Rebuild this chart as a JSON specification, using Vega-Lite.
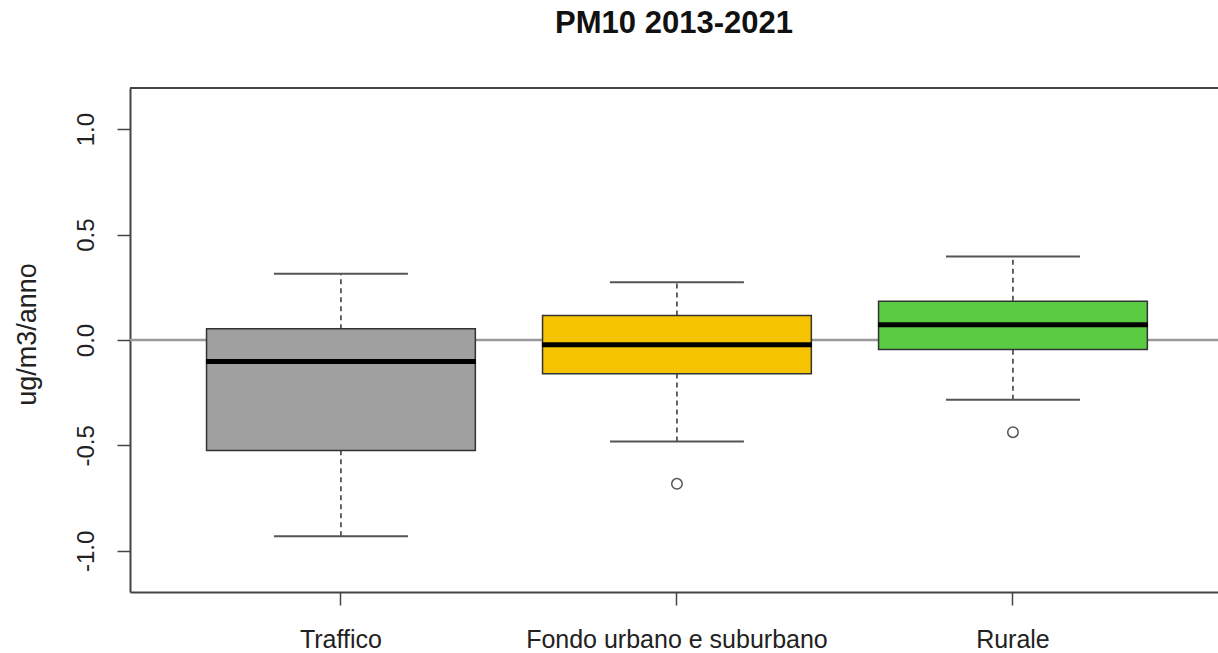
{
  "$schema": "https://vega.github.io/schema/vega-lite/v6.json",
  "width": 1088,
  "height": 504,
  "autosize": {"type": "none"},
  "padding": {"left": 130, "top": 88, "right": 0, "bottom": 61},
  "background": "white",
  "config": {
    "view": {"stroke": null},
    "font": "Liberation Sans",
    "axis": {"grid": false, "domainColor": "#444", "domainWidth": 2, "tickColor": "#444", "tickWidth": 1.5, "tickSize": 13, "labelColor": "#222", "titleColor": "#222", "labelFont": "Liberation Sans", "titleFont": "Liberation Sans"}
  },
  "title": {"text": "PM10 2013-2021", "fontSize": 31, "fontWeight": "bold", "color": "#111", "font": "Liberation Sans", "anchor": "middle", "frame": "group", "baseline": "alphabetic", "offset": 23},
  "datasets": {
    "stats": [
      {"categoria": "Traffico", "lower": -0.931, "q1": -0.524, "median": -0.102, "q3": 0.053, "upper": 0.314},
      {"categoria": "Fondo urbano e suburbano", "lower": -0.481, "q1": -0.160, "median": -0.023, "q3": 0.116, "upper": 0.274},
      {"categoria": "Rurale", "lower": -0.283, "q1": -0.045, "median": 0.072, "q3": 0.184, "upper": 0.396}
    ],
    "outliers": [
      {"categoria": "Fondo urbano e suburbano", "valore": -0.682},
      {"categoria": "Rurale", "valore": -0.437}
    ],
    "lines": [
      {"livello": 0}
    ],
    "frame": [
      {"livello": 1.195}
    ]
  },
  "encoding": {
    "x": {
      "field": "categoria", "type": "nominal",
      "sort": ["Traffico", "Fondo urbano e suburbano", "Rurale"],
      "scale": {"domain": ["Traffico", "Fondo urbano e suburbano", "Rurale"], "paddingInner": 0.2, "paddingOuter": 0.219, "align": 0.52},
      "axis": {"title": null, "labelAngle": 0, "labelFontSize": 25, "labelPadding": 42, "labelBaseline": "alphabetic", "labelLimit": 0}
    }
  },
  "layer": [
    {
      "data": {"name": "lines"},
      "mark": {"type": "rule", "color": "#999", "strokeWidth": 2.5},
      "encoding": {
        "x": null,
        "y": {"field": "livello", "type": "quantitative", "scale": {"domain": [-1.195, 1.195], "nice": false, "zero": false},
          "axis": {"values": [-1, -0.5, 0, 0.5, 1], "labelExpr": "datum.value < 0 ? '-' + format(-datum.value, '.1f') : format(datum.value, '.1f')", "labelAngle": 270, "labelAlign": "center", "labelBaseline": "alphabetic", "labelPadding": 24, "labelFontSize": 24, "title": "ug/m3/anno", "titleFontSize": 27, "titleFontWeight": "normal", "titleAngle": 270, "titleX": -95, "titleY": 246, "titleAlign": "center", "titleBaseline": "alphabetic"}}
      }
    },
    {
      "data": {"name": "frame"},
      "mark": {"type": "rule", "color": "#444", "strokeWidth": 2},
      "encoding": {"x": null, "y": {"field": "livello", "type": "quantitative"}}
    },
    {
      "data": {"name": "stats"},
      "mark": {"type": "rule", "color": "#333", "strokeWidth": 1.5, "strokeDash": [5, 4]},
      "encoding": {"y": {"field": "lower", "type": "quantitative"}, "y2": {"field": "upper"}}
    },
    {
      "data": {"name": "stats"},
      "mark": {"type": "tick", "color": "#555", "size": 134, "thickness": 2, "opacity": 1, "orient": "horizontal"},
      "encoding": {"y": {"field": "lower", "type": "quantitative"}}
    },
    {
      "data": {"name": "stats"},
      "mark": {"type": "tick", "color": "#555", "size": 134, "thickness": 2, "opacity": 1, "orient": "horizontal"},
      "encoding": {"y": {"field": "upper", "type": "quantitative"}}
    },
    {
      "data": {"name": "stats"},
      "mark": {"type": "bar", "stroke": "#333", "strokeWidth": 1.5, "opacity": 1},
      "encoding": {
        "y": {"field": "q1", "type": "quantitative"},
        "y2": {"field": "q3"},
        "color": {"field": "categoria", "type": "nominal", "legend": null,
          "scale": {"domain": ["Traffico", "Fondo urbano e suburbano", "Rurale"], "range": ["#A0A0A0", "#F6C300", "#5BCB44"]}}
      }
    },
    {
      "data": {"name": "stats"},
      "mark": {"type": "tick", "color": "#000", "size": 270, "thickness": 5, "opacity": 1, "orient": "horizontal"},
      "encoding": {"y": {"field": "median", "type": "quantitative"}}
    },
    {
      "data": {"name": "outliers"},
      "mark": {"type": "point", "shape": "circle", "filled": false, "color": "#555", "strokeWidth": 1.5, "size": 110, "opacity": 1},
      "encoding": {"y": {"field": "valore", "type": "quantitative"}}
    }
  ]
}
